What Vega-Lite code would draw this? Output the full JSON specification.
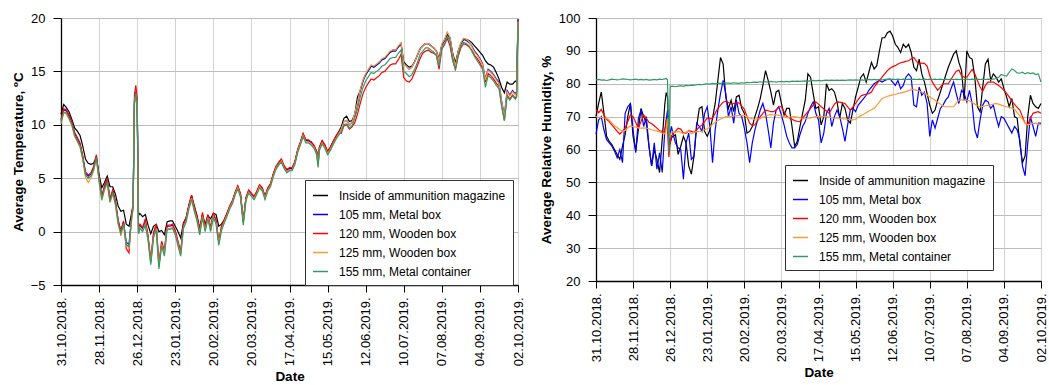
{
"$schema": "https://vega.github.io/schema/vega-lite/v6.json",
"background": "white",
"padding": {"left": 11, "top": 12, "right": 0, "bottom": 0},
"config": {
  "font": "Liberation Sans",
  "view": {"stroke": null},
  "axis": {"domainColor": "#000", "domainWidth": 1.3, "tickColor": "#000", "tickWidth": 1, "labelColor": "#000", "labelFontSize": 13, "titleFontSize": 13.5, "titleFontWeight": "bold", "titleColor": "#000", "grid": true, "gridWidth": 1},
  "axisX": {"tickSize": 7, "labelPadding": 5, "labelAngle": -90, "gridColor": "#d3d3d3", "titlePadding": 4, "labelFlush": false, "labelOverlap": false, "labelExpr": "utcFormat(datum.value, '%d.%m.%Y.')"},
  "axisY": {"tickSize": 8, "labelPadding": 8, "gridColor": "#bcbcbc", "titlePadding": 5},
  "legend": {"orient": "none", "direction": "vertical", "symbolType": "stroke", "symbolSize": 225, "symbolStrokeWidth": 1.5, "labelFontSize": 12, "labelColor": "#000", "labelOffset": 10, "labelLimit": 300, "padding": 7, "rowPadding": 4, "strokeColor": "#333333", "fillColor": "#ffffff"},
  "concat": {"spacing": 14}
},
"datasets": {
"temp": [
{"d":"2018-10-31","k":11.0,"m":10.4,"w":10.5,"o":10.1,"g":10.2},
{"d":"2018-11-02","k":11.9,"m":11.4,"w":11.5,"o":11.1,"g":11.2},
{"d":"2018-11-04","k":11.6,"m":11.3,"w":11.4,"o":11.0,"g":11.1},
{"d":"2018-11-06","k":11.2,"m":10.8,"w":10.9,"o":10.5,"g":10.6},
{"d":"2018-11-08","k":10.5,"m":10.2,"w":10.3,"o":9.9,"g":10.0},
{"d":"2018-11-10","k":9.7,"m":9.2,"w":9.3,"o":8.9,"g":9.0},
{"d":"2018-11-12","k":9.4,"m":8.7,"w":8.8,"o":8.4,"g":8.5},
{"d":"2018-11-14","k":9.0,"m":8.2,"w":8.3,"o":7.9,"g":8.0},
{"d":"2018-11-16","k":8.0,"m":7.0,"w":7.1,"o":6.7,"g":6.8},
{"d":"2018-11-18","k":6.8,"m":5.5,"w":5.6,"o":5.1,"g":5.3},
{"d":"2018-11-20","k":6.4,"m":5.2,"w":5.3,"o":4.6,"g":5.0},
{"d":"2018-11-22","k":6.3,"m":5.4,"w":5.5,"o":5.0,"g":5.2},
{"d":"2018-11-24","k":6.4,"m":6.0,"w":6.1,"o":5.7,"g":5.8},
{"d":"2018-11-26","k":7.0,"m":7.0,"w":7.2,"o":6.8,"g":6.9},
{"d":"2018-11-28","k":5.3,"m":5.0,"w":5.1,"o":4.7,"g":4.8},
{"d":"2018-11-30","k":4.1,"m":3.2,"w":3.3,"o":2.9,"g":3.0},
{"d":"2018-12-02","k":4.6,"m":4.2,"w":4.3,"o":3.9,"g":4.0},
{"d":"2018-12-04","k":5.2,"m":4.8,"w":4.9,"o":4.5,"g":4.6},
{"d":"2018-12-06","k":4.2,"m":3.0,"w":3.1,"o":2.7,"g":2.8},
{"d":"2018-12-08","k":4.2,"m":3.8,"w":3.9,"o":3.5,"g":3.6},
{"d":"2018-12-10","k":3.5,"m":2.8,"w":2.9,"o":2.5,"g":2.6},
{"d":"2018-12-12","k":2.4,"m":1.0,"w":1.1,"o":0.7,"g":0.8},
{"d":"2018-12-14","k":1.9,"m":0.0,"w":0.1,"o":-0.4,"g":-0.2},
{"d":"2018-12-16","k":2.0,"m":0.9,"w":1.0,"o":0.6,"g":0.7},
{"d":"2018-12-18","k":0.7,"m":-1.0,"w":-1.6,"o":-1.3,"g":-1.2},
{"d":"2018-12-20","k":0.5,"m":-1.2,"w":-2.0,"o":-1.5,"g":-1.4},
{"d":"2018-12-22","k":1.8,"m":1.5,"w":1.8,"o":1.2,"g":1.3},
{"d":"2018-12-23","k":2.3,"m":2.3,"w":2.6,"o":2.1,"g":2.2},
{"d":"2018-12-24","k":12.0,"m":12.3,"w":12.8,"o":12.0,"g":12.1},
{"d":"2018-12-25","k":12.9,"m":13.1,"w":13.7,"o":12.9,"g":13.0},
{"d":"2018-12-26","k":12.0,"m":12.2,"w":12.6,"o":11.9,"g":12.0},
{"d":"2018-12-27","k":1.5,"m":0.0,"w":0.3,"o":-0.2,"g":-0.2},
{"d":"2018-12-28","k":1.7,"m":0.6,"w":0.7,"o":0.4,"g":0.3},
{"d":"2018-12-30","k":1.4,"m":0.3,"w":0.4,"o":0.1,"g":0.0},
{"d":"2019-01-01","k":1.6,"m":0.9,"w":1.2,"o":0.7,"g":0.6},
{"d":"2019-01-03","k":0.6,"m":-0.5,"w":-0.4,"o":-0.7,"g":-0.8},
{"d":"2019-01-05","k":-0.2,"m":-2.8,"w":-2.6,"o":-2.9,"g":-3.1},
{"d":"2019-01-07","k":0.5,"m":-0.3,"w":-0.1,"o":-0.5,"g":-0.6},
{"d":"2019-01-09","k":0.7,"m":0.5,"w":0.7,"o":0.3,"g":0.2},
{"d":"2019-01-11","k":0.0,"m":-3.2,"w":-3.0,"o":-3.3,"g":-3.5},
{"d":"2019-01-13","k":0.1,"m":-1.0,"w":-0.9,"o":-1.2,"g":-1.3},
{"d":"2019-01-15","k":-0.3,"m":-2.0,"w":-1.8,"o":-2.1,"g":-2.3},
{"d":"2019-01-17","k":0.9,"m":0.5,"w":0.6,"o":0.3,"g":0.2},
{"d":"2019-01-19","k":1.0,"m":0.5,"w":0.6,"o":0.3,"g":0.2},
{"d":"2019-01-21","k":1.0,"m":0.6,"w":0.7,"o":0.4,"g":0.3},
{"d":"2019-01-23","k":0.5,"m":0.0,"w":0.1,"o":-0.2,"g":-0.3},
{"d":"2019-01-25","k":0.0,"m":-1.0,"w":-0.9,"o":-1.2,"g":-1.3},
{"d":"2019-01-27","k":-0.6,"m":-2.0,"w":-1.9,"o":-2.2,"g":-2.3},
{"d":"2019-01-29","k":0.8,"m":0.6,"w":0.7,"o":0.4,"g":0.3},
{"d":"2019-01-31","k":1.3,"m":1.2,"w":1.3,"o":1.0,"g":0.9},
{"d":"2019-02-02","k":2.4,"m":2.4,"w":2.5,"o":2.2,"g":2.1},
{"d":"2019-02-04","k":3.4,"m":3.3,"w":3.4,"o":3.1,"g":3.0},
{"d":"2019-02-06","k":2.4,"m":2.2,"w":2.3,"o":2.0,"g":1.9},
{"d":"2019-02-08","k":1.5,"m":1.3,"w":1.4,"o":1.1,"g":1.0},
{"d":"2019-02-10","k":0.3,"m":0.0,"w":0.2,"o":-0.2,"g":-0.3},
{"d":"2019-02-12","k":1.5,"m":1.6,"w":1.8,"o":1.4,"g":1.3},
{"d":"2019-02-14","k":0.7,"m":0.3,"w":0.4,"o":0.1,"g":0.0},
{"d":"2019-02-16","k":1.5,"m":1.5,"w":1.6,"o":1.3,"g":1.2},
{"d":"2019-02-18","k":1.2,"m":0.3,"w":0.4,"o":0.1,"g":0.0},
{"d":"2019-02-20","k":1.7,"m":1.6,"w":1.7,"o":1.4,"g":1.3},
{"d":"2019-02-22","k":1.6,"m":1.0,"w":1.1,"o":0.8,"g":0.7},
{"d":"2019-02-24","k":0.5,"m":-1.0,"w":-0.9,"o":-1.1,"g":-1.3},
{"d":"2019-02-26","k":0.7,"m":0.4,"w":0.5,"o":0.2,"g":0.1},
{"d":"2019-02-28","k":1.1,"m":1.0,"w":1.1,"o":0.9,"g":0.8},
{"d":"2019-03-02","k":1.7,"m":1.6,"w":1.7,"o":1.5,"g":1.4},
{"d":"2019-03-04","k":2.3,"m":2.3,"w":2.4,"o":2.2,"g":2.1},
{"d":"2019-03-06","k":2.8,"m":2.8,"w":2.9,"o":2.7,"g":2.6},
{"d":"2019-03-08","k":3.6,"m":3.6,"w":3.7,"o":3.5,"g":3.4},
{"d":"2019-03-10","k":4.2,"m":4.2,"w":4.3,"o":4.1,"g":4.0},
{"d":"2019-03-12","k":3.5,"m":3.4,"w":3.5,"o":3.3,"g":3.2},
{"d":"2019-03-14","k":1.0,"m":0.9,"w":1.0,"o":0.8,"g":0.6},
{"d":"2019-03-16","k":3.1,"m":3.1,"w":3.2,"o":3.0,"g":2.9},
{"d":"2019-03-18","k":3.8,"m":3.8,"w":3.9,"o":3.7,"g":3.6},
{"d":"2019-03-20","k":3.5,"m":3.5,"w":3.6,"o":3.4,"g":3.3},
{"d":"2019-03-22","k":3.2,"m":3.2,"w":3.3,"o":3.1,"g":3.0},
{"d":"2019-03-24","k":3.7,"m":3.7,"w":3.8,"o":3.6,"g":3.5},
{"d":"2019-03-26","k":4.3,"m":4.3,"w":4.4,"o":4.2,"g":4.1},
{"d":"2019-03-28","k":4.0,"m":4.0,"w":4.1,"o":3.9,"g":3.8},
{"d":"2019-03-30","k":3.3,"m":3.2,"w":3.3,"o":3.1,"g":3.0},
{"d":"2019-04-01","k":4.0,"m":4.0,"w":4.1,"o":3.9,"g":3.8},
{"d":"2019-04-03","k":4.4,"m":4.4,"w":4.5,"o":4.3,"g":4.2},
{"d":"2019-04-05","k":5.3,"m":5.3,"w":5.4,"o":5.2,"g":5.1},
{"d":"2019-04-07","k":6.0,"m":6.0,"w":6.1,"o":5.9,"g":5.8},
{"d":"2019-04-09","k":6.4,"m":6.4,"w":6.5,"o":6.3,"g":6.2},
{"d":"2019-04-11","k":6.7,"m":6.7,"w":6.8,"o":6.6,"g":6.5},
{"d":"2019-04-13","k":6.1,"m":6.1,"w":6.2,"o":6.0,"g":5.9},
{"d":"2019-04-15","k":5.8,"m":5.7,"w":5.8,"o":5.6,"g":5.5},
{"d":"2019-04-17","k":5.9,"m":5.9,"w":6.0,"o":5.8,"g":5.7},
{"d":"2019-04-19","k":6.0,"m":5.9,"w":6.0,"o":5.8,"g":5.7},
{"d":"2019-04-21","k":6.5,"m":6.5,"w":6.6,"o":6.4,"g":6.3},
{"d":"2019-04-23","k":7.6,"m":7.6,"w":7.7,"o":7.5,"g":7.4},
{"d":"2019-04-25","k":8.3,"m":8.3,"w":8.4,"o":8.2,"g":8.1},
{"d":"2019-04-27","k":9.1,"m":9.1,"w":9.2,"o":9.0,"g":8.9},
{"d":"2019-04-29","k":8.6,"m":8.5,"w":8.6,"o":8.4,"g":8.3},
{"d":"2019-05-01","k":8.5,"m":8.5,"w":8.6,"o":8.4,"g":8.3},
{"d":"2019-05-03","k":8.4,"m":8.3,"w":8.4,"o":8.2,"g":8.1},
{"d":"2019-05-05","k":8.0,"m":8.0,"w":8.1,"o":7.9,"g":7.8},
{"d":"2019-05-07","k":7.5,"m":7.4,"w":7.5,"o":7.3,"g":7.2},
{"d":"2019-05-08","k":6.6,"m":6.3,"w":6.4,"o":6.2,"g":6.0},
{"d":"2019-05-09","k":7.9,"m":7.8,"w":7.9,"o":7.7,"g":7.6},
{"d":"2019-05-11","k":8.5,"m":8.4,"w":8.5,"o":8.3,"g":8.2},
{"d":"2019-05-13","k":8.1,"m":8.0,"w":8.1,"o":7.9,"g":7.8},
{"d":"2019-05-15","k":7.5,"m":7.4,"w":7.5,"o":7.3,"g":7.2},
{"d":"2019-05-17","k":7.9,"m":7.8,"w":7.9,"o":7.7,"g":7.6},
{"d":"2019-05-19","k":8.4,"m":8.3,"w":8.4,"o":8.2,"g":8.1},
{"d":"2019-05-21","k":8.9,"m":8.8,"w":8.9,"o":8.7,"g":8.6},
{"d":"2019-05-23","k":9.3,"m":9.2,"w":9.3,"o":9.1,"g":9.0},
{"d":"2019-05-25","k":9.8,"m":9.6,"w":9.2,"o":9.6,"g":9.3},
{"d":"2019-05-27","k":10.6,"m":10.3,"w":9.9,"o":10.3,"g":10.0},
{"d":"2019-05-29","k":10.8,"m":10.4,"w":10.0,"o":10.4,"g":10.1},
{"d":"2019-05-31","k":10.3,"m":10.0,"w":9.6,"o":10.0,"g":9.7},
{"d":"2019-06-02","k":10.4,"m":10.2,"w":9.8,"o":10.2,"g":9.9},
{"d":"2019-06-04","k":11.0,"m":11.0,"w":10.2,"o":11.1,"g":10.6},
{"d":"2019-06-06","k":12.6,"m":12.0,"w":11.0,"o":12.1,"g":11.5},
{"d":"2019-06-08","k":13.2,"m":13.2,"w":12.0,"o":13.3,"g":12.6},
{"d":"2019-06-10","k":14.1,"m":14.1,"w":12.9,"o":14.2,"g":13.5},
{"d":"2019-06-12","k":14.7,"m":14.7,"w":13.5,"o":14.8,"g":14.1},
{"d":"2019-06-14","k":15.1,"m":15.1,"w":13.9,"o":15.2,"g":14.5},
{"d":"2019-06-16","k":15.5,"m":15.5,"w":14.3,"o":15.6,"g":14.9},
{"d":"2019-06-18","k":15.4,"m":15.4,"w":14.2,"o":15.5,"g":14.8},
{"d":"2019-06-20","k":15.6,"m":15.6,"w":14.4,"o":15.7,"g":15.0},
{"d":"2019-06-22","k":15.8,"m":15.8,"w":14.6,"o":15.9,"g":15.2},
{"d":"2019-06-24","k":16.1,"m":16.1,"w":14.9,"o":16.2,"g":15.5},
{"d":"2019-06-26","k":16.2,"m":16.2,"w":15.0,"o":16.3,"g":15.6},
{"d":"2019-06-28","k":16.5,"m":16.5,"w":15.3,"o":16.6,"g":15.9},
{"d":"2019-06-30","k":16.8,"m":16.8,"w":15.6,"o":16.9,"g":16.2},
{"d":"2019-07-02","k":17.0,"m":16.9,"w":15.7,"o":17.0,"g":16.3},
{"d":"2019-07-04","k":17.0,"m":16.9,"w":15.7,"o":17.0,"g":16.3},
{"d":"2019-07-06","k":17.3,"m":17.3,"w":16.1,"o":17.4,"g":16.7},
{"d":"2019-07-08","k":17.6,"m":17.6,"w":16.6,"o":17.7,"g":17.0},
{"d":"2019-07-10","k":15.9,"m":15.7,"w":14.4,"o":15.7,"g":15.0},
{"d":"2019-07-12","k":15.6,"m":15.5,"w":14.1,"o":15.5,"g":14.8},
{"d":"2019-07-14","k":15.4,"m":15.2,"w":14.0,"o":15.2,"g":14.5},
{"d":"2019-07-16","k":15.5,"m":15.4,"w":14.3,"o":15.4,"g":14.7},
{"d":"2019-07-18","k":15.9,"m":15.9,"w":14.9,"o":15.9,"g":15.2},
{"d":"2019-07-20","k":16.5,"m":16.5,"w":15.5,"o":16.5,"g":15.8},
{"d":"2019-07-22","k":17.1,"m":17.1,"w":16.2,"o":17.1,"g":16.6},
{"d":"2019-07-24","k":17.4,"m":17.4,"w":16.7,"o":17.4,"g":16.9},
{"d":"2019-07-26","k":17.6,"m":17.6,"w":16.9,"o":17.6,"g":17.2},
{"d":"2019-07-28","k":17.6,"m":17.6,"w":17.0,"o":17.6,"g":17.2},
{"d":"2019-07-30","k":17.4,"m":17.4,"w":16.8,"o":17.4,"g":17.0},
{"d":"2019-08-01","k":17.2,"m":17.2,"w":16.7,"o":17.2,"g":16.8},
{"d":"2019-08-03","k":16.9,"m":16.9,"w":16.5,"o":16.9,"g":16.5},
{"d":"2019-08-05","k":16.2,"m":16.0,"w":15.2,"o":16.0,"g":15.5},
{"d":"2019-08-07","k":17.5,"m":17.5,"w":17.1,"o":17.6,"g":17.2},
{"d":"2019-08-09","k":17.9,"m":17.9,"w":17.5,"o":18.0,"g":17.6},
{"d":"2019-08-11","k":18.5,"m":18.6,"w":18.1,"o":18.7,"g":18.3},
{"d":"2019-08-13","k":18.1,"m":18.1,"w":17.4,"o":18.2,"g":17.8},
{"d":"2019-08-15","k":16.7,"m":16.5,"w":16.0,"o":16.6,"g":16.1},
{"d":"2019-08-17","k":15.8,"m":15.4,"w":15.2,"o":15.5,"g":15.1},
{"d":"2019-08-19","k":16.9,"m":16.8,"w":16.4,"o":16.9,"g":16.5},
{"d":"2019-08-21","k":17.6,"m":17.6,"w":17.2,"o":17.7,"g":17.3},
{"d":"2019-08-23","k":18.0,"m":18.0,"w":17.6,"o":18.1,"g":17.7},
{"d":"2019-08-25","k":18.0,"m":17.9,"w":17.5,"o":18.0,"g":17.6},
{"d":"2019-08-27","k":17.9,"m":17.7,"w":17.3,"o":17.8,"g":17.4},
{"d":"2019-08-29","k":17.7,"m":17.4,"w":17.0,"o":17.3,"g":16.9},
{"d":"2019-08-31","k":17.4,"m":16.9,"w":16.5,"o":16.8,"g":16.4},
{"d":"2019-09-02","k":17.1,"m":16.6,"w":16.2,"o":16.5,"g":16.0},
{"d":"2019-09-04","k":16.8,"m":16.2,"w":15.8,"o":16.1,"g":15.6},
{"d":"2019-09-06","k":16.5,"m":15.7,"w":15.3,"o":15.6,"g":15.2},
{"d":"2019-09-08","k":16.0,"m":14.3,"w":14.0,"o":14.2,"g":13.5},
{"d":"2019-09-10","k":15.7,"m":15.2,"w":14.8,"o":15.1,"g":14.6},
{"d":"2019-09-12","k":15.6,"m":15.0,"w":14.6,"o":14.9,"g":14.4},
{"d":"2019-09-14","k":15.4,"m":14.7,"w":14.3,"o":14.6,"g":14.1},
{"d":"2019-09-16","k":14.9,"m":14.3,"w":13.9,"o":14.2,"g":13.7},
{"d":"2019-09-18","k":14.3,"m":14.0,"w":13.6,"o":13.9,"g":13.4},
{"d":"2019-09-20","k":13.5,"m":12.2,"w":11.8,"o":12.1,"g":11.7},
{"d":"2019-09-22","k":13.0,"m":10.9,"w":10.4,"o":10.8,"g":10.4},
{"d":"2019-09-24","k":14.0,"m":13.2,"w":12.8,"o":13.1,"g":12.7},
{"d":"2019-09-26","k":13.8,"m":12.8,"w":12.4,"o":12.7,"g":12.3},
{"d":"2019-09-28","k":13.8,"m":13.2,"w":12.8,"o":13.1,"g":12.7},
{"d":"2019-09-30","k":14.1,"m":12.9,"w":12.5,"o":12.8,"g":12.4},
{"d":"2019-10-01","k":14.0,"m":13.1,"w":12.7,"o":13.0,"g":12.6},
{"d":"2019-10-02","k":19.9,"m":19.8,"w":19.6,"o":19.7,"g":19.4}
],
"hum": [
{"d":"2018-10-31","k":70,"m":64.7,"w":72.2,"o":70,"g":81.2},
{"d":"2018-11-02","k":74,"m":69,"w":71.2,"o":69.8,"g":81.3},
{"d":"2018-11-04","k":77.5,"m":70,"w":72.2,"o":69.8,"g":81.1},
{"d":"2018-11-06","k":71,"m":66,"w":70.5,"o":69.6,"g":81.2},
{"d":"2018-11-08","k":64,"m":63,"w":69.2,"o":69.5,"g":81.0},
{"d":"2018-11-10","k":62.5,"m":62,"w":68.5,"o":69,"g":81.2},
{"d":"2018-11-12","k":61.5,"m":61,"w":67.5,"o":68,"g":81.4},
{"d":"2018-11-14","k":60,"m":59.5,"w":66.5,"o":67.2,"g":81.3},
{"d":"2018-11-16","k":58.5,"m":57.5,"w":65.5,"o":66.7,"g":81.2},
{"d":"2018-11-18","k":57,"m":60,"w":64.7,"o":66,"g":81.3},
{"d":"2018-11-20","k":61,"m":56,"w":65.5,"o":65.5,"g":81.5},
{"d":"2018-11-22","k":64.5,"m":71,"w":66.5,"o":65.8,"g":81.4},
{"d":"2018-11-24","k":70,"m":73,"w":68.5,"o":66.6,"g":81.3},
{"d":"2018-11-26","k":74,"m":74,"w":70.5,"o":67.2,"g":81.2},
{"d":"2018-11-28","k":64,"m":66,"w":70,"o":67,"g":81.3},
{"d":"2018-11-30","k":59.5,"m":59,"w":68.2,"o":66.8,"g":81.4},
{"d":"2018-12-02","k":66,"m":69.5,"w":66.5,"o":66.6,"g":81.2},
{"d":"2018-12-04","k":72.5,"m":72,"w":68.5,"o":66.5,"g":81.3},
{"d":"2018-12-06","k":70,"m":67,"w":70.5,"o":66.6,"g":81.2},
{"d":"2018-12-08","k":68,"m":70,"w":69.5,"o":66.5,"g":81.3},
{"d":"2018-12-10","k":61,"m":61,"w":68.3,"o":66.3,"g":81.1},
{"d":"2018-12-12","k":55,"m":55,"w":67.8,"o":66,"g":81.2},
{"d":"2018-12-14","k":60,"m":62,"w":67.2,"o":65.8,"g":81.3},
{"d":"2018-12-16","k":57,"m":54,"w":66.5,"o":65.6,"g":81.2},
{"d":"2018-12-18","k":53,"m":59,"w":65.7,"o":65.4,"g":81.4},
{"d":"2018-12-20","k":63,"m":53,"w":65.5,"o":65,"g":81.3},
{"d":"2018-12-22","k":74,"m":66,"w":65.2,"o":64.7,"g":81.5},
{"d":"2018-12-23","k":77.3,"m":69,"w":69,"o":66.2,"g":81.6},
{"d":"2018-12-24","k":76,"m":72,"w":66,"o":69.5,"g":81.2},
{"d":"2018-12-25","k":63,"m":61,"w":57.7,"o":63.5,"g":59},
{"d":"2018-12-26","k":62,"m":65,"w":62,"o":64.5,"g":79.3},
{"d":"2018-12-27","k":63.5,"m":67,"w":64.2,"o":65.2,"g":79.2},
{"d":"2018-12-28","k":64,"m":65,"w":64.7,"o":65.4,"g":79.3},
{"d":"2018-12-30","k":64.5,"m":62,"w":65.5,"o":65.2,"g":79.1},
{"d":"2019-01-01","k":58.5,"m":60.5,"w":66.5,"o":65.5,"g":79.3},
{"d":"2019-01-03","k":61,"m":60,"w":66.2,"o":65.2,"g":79.4},
{"d":"2019-01-05","k":64,"m":51,"w":65,"o":64.8,"g":79.2},
{"d":"2019-01-07","k":62,"m":62,"w":65,"o":65.3,"g":79.5},
{"d":"2019-01-09","k":55,"m":65,"w":65.7,"o":65.6,"g":79.4},
{"d":"2019-01-11","k":52.5,"m":57,"w":65.5,"o":64.8,"g":79.6},
{"d":"2019-01-13","k":58,"m":58,"w":65.2,"o":65.2,"g":79.5},
{"d":"2019-01-15","k":67,"m":68,"w":66,"o":65.5,"g":79.7},
{"d":"2019-01-17","k":72.5,"m":67,"w":66.8,"o":65.4,"g":79.8},
{"d":"2019-01-19","k":73,"m":65.5,"w":67.5,"o":65.5,"g":79.7},
{"d":"2019-01-21","k":65.5,"m":71,"w":68.5,"o":66,"g":79.9},
{"d":"2019-01-23","k":64,"m":73,"w":69.6,"o":66.3,"g":80.0},
{"d":"2019-01-25","k":66,"m":67,"w":69.3,"o":66.8,"g":79.9},
{"d":"2019-01-27","k":69.5,"m":56,"w":69.5,"o":67.7,"g":80.1},
{"d":"2019-01-29","k":74,"m":66,"w":71,"o":68.3,"g":80.0},
{"d":"2019-01-31","k":81,"m":72,"w":72.5,"o":68.8,"g":80.2},
{"d":"2019-02-02","k":88,"m":77,"w":73.5,"o":69.3,"g":80.1},
{"d":"2019-02-04","k":86,"m":81,"w":74.4,"o":69.6,"g":80.3},
{"d":"2019-02-06","k":76,"m":77,"w":74.7,"o":70,"g":80.2},
{"d":"2019-02-08","k":72.5,"m":70,"w":74.3,"o":70.1,"g":80.2},
{"d":"2019-02-10","k":75,"m":73,"w":73.8,"o":70,"g":80.1},
{"d":"2019-02-12","k":71.5,"m":68,"w":74,"o":70.2,"g":80.3},
{"d":"2019-02-14","k":76,"m":75,"w":74.2,"o":70.2,"g":80.2},
{"d":"2019-02-16","k":76.5,"m":71,"w":74.2,"o":70.3,"g":80.1},
{"d":"2019-02-18","k":72.5,"m":70,"w":73.2,"o":70.3,"g":80.3},
{"d":"2019-02-20","k":71,"m":66.5,"w":72.3,"o":70.4,"g":80.2},
{"d":"2019-02-22","k":65,"m":62,"w":70,"o":70,"g":80.4},
{"d":"2019-02-24","k":65.5,"m":56,"w":68,"o":69.6,"g":80.3},
{"d":"2019-02-26","k":67,"m":62,"w":67.3,"o":69.3,"g":80.4},
{"d":"2019-02-28","k":70,"m":66,"w":67.5,"o":69.2,"g":80.5},
{"d":"2019-03-02","k":72.5,"m":69,"w":68.8,"o":69.3,"g":80.4},
{"d":"2019-03-04","k":75.5,"m":72,"w":70,"o":69.4,"g":80.6},
{"d":"2019-03-06","k":79.5,"m":74,"w":71,"o":69.8,"g":80.5},
{"d":"2019-03-08","k":84,"m":71,"w":72,"o":70.2,"g":80.6},
{"d":"2019-03-10","k":81,"m":66,"w":71.8,"o":70.5,"g":80.5},
{"d":"2019-03-12","k":77.5,"m":60.5,"w":71.5,"o":70.6,"g":80.7},
{"d":"2019-03-14","k":73.5,"m":68,"w":71.5,"o":70.5,"g":80.6},
{"d":"2019-03-16","k":77.5,"m":72,"w":72,"o":70.6,"g":80.5},
{"d":"2019-03-18","k":78,"m":73,"w":73,"o":70.4,"g":80.6},
{"d":"2019-03-20","k":74,"m":70.5,"w":73,"o":70.2,"g":80.7},
{"d":"2019-03-22","k":70.5,"m":67.5,"w":71.5,"o":70,"g":80.6},
{"d":"2019-03-24","k":72.5,"m":64,"w":70,"o":69.7,"g":80.7},
{"d":"2019-03-26","k":72.5,"m":62,"w":69.6,"o":69.8,"g":80.6},
{"d":"2019-03-28","k":67,"m":60.5,"w":69.2,"o":70,"g":80.8},
{"d":"2019-03-30","k":61,"m":60.5,"w":68.8,"o":70,"g":80.7},
{"d":"2019-04-01","k":62.5,"m":61.5,"w":68.6,"o":69.8,"g":80.8},
{"d":"2019-04-03","k":67,"m":64.5,"w":68.5,"o":69.6,"g":80.7},
{"d":"2019-04-05","k":71,"m":67,"w":69.5,"o":69.5,"g":80.8},
{"d":"2019-04-07","k":75,"m":68.5,"w":70.5,"o":69.4,"g":80.9},
{"d":"2019-04-09","k":83,"m":71,"w":71.5,"o":69.5,"g":80.8},
{"d":"2019-04-11","k":82,"m":73,"w":72.5,"o":69.6,"g":80.9},
{"d":"2019-04-13","k":77,"m":74.5,"w":73.5,"o":69.8,"g":81.0},
{"d":"2019-04-15","k":72.5,"m":71,"w":74.5,"o":70,"g":80.9},
{"d":"2019-04-17","k":73,"m":69,"w":73.8,"o":70.1,"g":81.0},
{"d":"2019-04-19","k":67.5,"m":62,"w":73,"o":70,"g":80.9},
{"d":"2019-04-21","k":70,"m":65,"w":72.4,"o":70,"g":81.0},
{"d":"2019-04-23","k":80,"m":71,"w":71.7,"o":70,"g":81.1},
{"d":"2019-04-25","k":78,"m":72.5,"w":71,"o":69.8,"g":81.0},
{"d":"2019-04-27","k":78.5,"m":67,"w":72.4,"o":69.6,"g":81.1},
{"d":"2019-04-29","k":77.5,"m":70,"w":73.8,"o":69.5,"g":81.0},
{"d":"2019-05-01","k":74.5,"m":72,"w":74.5,"o":69.6,"g":81.1},
{"d":"2019-05-03","k":69.5,"m":70,"w":74.4,"o":69.5,"g":81.0},
{"d":"2019-05-05","k":74,"m":66.5,"w":74.2,"o":69.4,"g":81.1},
{"d":"2019-05-07","k":72.5,"m":62.5,"w":74,"o":69.3,"g":81.0},
{"d":"2019-05-09","k":69,"m":67.5,"w":73,"o":69.2,"g":81.1},
{"d":"2019-05-11","k":68,"m":72,"w":72,"o":69.1,"g":81.2},
{"d":"2019-05-13","k":72,"m":72.5,"w":73,"o":69,"g":81.1},
{"d":"2019-05-15","k":76,"m":71.5,"w":74,"o":69.2,"g":81.2},
{"d":"2019-05-17","k":79,"m":73.5,"w":75.2,"o":69.8,"g":81.1},
{"d":"2019-05-19","k":82,"m":74.5,"w":76.3,"o":70.3,"g":81.2},
{"d":"2019-05-21","k":83,"m":75.5,"w":76.6,"o":70.7,"g":81.1},
{"d":"2019-05-23","k":80.5,"m":76.5,"w":76.8,"o":71.2,"g":81.2},
{"d":"2019-05-25","k":83.5,"m":78,"w":77,"o":71.7,"g":81.3},
{"d":"2019-05-27","k":86.5,"m":79,"w":77.5,"o":72.1,"g":81.2},
{"d":"2019-05-29","k":84.5,"m":80,"w":79,"o":72.5,"g":81.3},
{"d":"2019-05-31","k":85.5,"m":80.5,"w":80,"o":73.4,"g":81.2},
{"d":"2019-06-02","k":90,"m":81,"w":81,"o":74.5,"g":81.3},
{"d":"2019-06-04","k":94,"m":80.5,"w":82,"o":75.5,"g":81.2},
{"d":"2019-06-06","k":94,"m":81,"w":83,"o":75.8,"g":81.3},
{"d":"2019-06-08","k":95.5,"m":81.3,"w":84,"o":76.2,"g":81.4},
{"d":"2019-06-10","k":96,"m":81.5,"w":84.7,"o":76.4,"g":81.3},
{"d":"2019-06-12","k":94.5,"m":80.5,"w":85.2,"o":76.6,"g":81.4},
{"d":"2019-06-14","k":92,"m":79.5,"w":85.5,"o":76.8,"g":81.3},
{"d":"2019-06-16","k":91,"m":81,"w":86,"o":77,"g":81.4},
{"d":"2019-06-18","k":89.5,"m":78.5,"w":86.4,"o":77.2,"g":81.3},
{"d":"2019-06-20","k":92,"m":79.5,"w":86.6,"o":77.4,"g":81.4},
{"d":"2019-06-22","k":91,"m":82,"w":86.8,"o":77.6,"g":81.3},
{"d":"2019-06-24","k":92,"m":83,"w":87,"o":77.9,"g":81.4},
{"d":"2019-06-26","k":89.5,"m":82,"w":87.5,"o":78.2,"g":81.3},
{"d":"2019-06-28","k":85,"m":73.5,"w":88,"o":78.3,"g":81.4},
{"d":"2019-06-30","k":84,"m":73,"w":86.8,"o":78,"g":81.3},
{"d":"2019-07-02","k":87.5,"m":79,"w":86,"o":77.8,"g":81.4},
{"d":"2019-07-04","k":83,"m":76.5,"w":86.3,"o":77.5,"g":81.3},
{"d":"2019-07-06","k":80.5,"m":77.5,"w":86.2,"o":77.2,"g":81.4},
{"d":"2019-07-08","k":77,"m":74,"w":85.4,"o":76.6,"g":81.3},
{"d":"2019-07-10","k":73.5,"m":64,"w":82.5,"o":76,"g":81.4},
{"d":"2019-07-12","k":71,"m":69,"w":80.5,"o":75.5,"g":81.3},
{"d":"2019-07-14","k":72,"m":66.5,"w":79.2,"o":75,"g":81.4},
{"d":"2019-07-16","k":75,"m":69.5,"w":78,"o":74.4,"g":81.3},
{"d":"2019-07-18","k":77.5,"m":72.5,"w":79,"o":73.8,"g":81.4},
{"d":"2019-07-20","k":80,"m":73.5,"w":80,"o":73.2,"g":81.3},
{"d":"2019-07-22","k":82.5,"m":75,"w":80,"o":73,"g":81.4},
{"d":"2019-07-24","k":85,"m":76,"w":80,"o":73,"g":81.3},
{"d":"2019-07-26","k":87,"m":78.5,"w":81.3,"o":73,"g":81.4},
{"d":"2019-07-28","k":89,"m":80.5,"w":82.6,"o":73,"g":81.3},
{"d":"2019-07-30","k":90,"m":77,"w":83.8,"o":74,"g":81.4},
{"d":"2019-08-01","k":86.5,"m":74,"w":84.2,"o":75,"g":81.3},
{"d":"2019-08-03","k":84,"m":78,"w":82.5,"o":75.1,"g":81.4},
{"d":"2019-08-05","k":75,"m":77,"w":82,"o":75,"g":81.3},
{"d":"2019-08-07","k":90,"m":74.5,"w":82,"o":75,"g":81.4},
{"d":"2019-08-09","k":88,"m":78,"w":83.2,"o":74.8,"g":81.3},
{"d":"2019-08-11","k":87.5,"m":74,"w":84.4,"o":74.3,"g":81.4},
{"d":"2019-08-13","k":82,"m":66,"w":83,"o":73.8,"g":81.3},
{"d":"2019-08-15","k":73,"m":63.5,"w":81,"o":73.3,"g":81.4},
{"d":"2019-08-17","k":71.5,"m":69,"w":79,"o":73,"g":81.3},
{"d":"2019-08-19","k":79,"m":73.5,"w":77.7,"o":73.1,"g":81.4},
{"d":"2019-08-21","k":86,"m":75,"w":79.5,"o":73.3,"g":81.3},
{"d":"2019-08-23","k":87.5,"m":74.5,"w":80.5,"o":73.4,"g":81.4},
{"d":"2019-08-25","k":81,"m":72.5,"w":80.5,"o":73.6,"g":81.3},
{"d":"2019-08-27","k":83,"m":73.5,"w":80.5,"o":73.8,"g":81.4},
{"d":"2019-08-29","k":82,"m":70,"w":80,"o":74,"g":81.6},
{"d":"2019-08-31","k":80.5,"m":67,"w":79.5,"o":73.8,"g":82},
{"d":"2019-09-02","k":81.5,"m":70,"w":78.8,"o":73.5,"g":82.8},
{"d":"2019-09-04","k":78.5,"m":69.5,"w":78,"o":73.2,"g":82.5},
{"d":"2019-09-06","k":76,"m":68,"w":77.1,"o":73,"g":82.3},
{"d":"2019-09-08","k":73,"m":66.5,"w":76,"o":72.8,"g":83.5},
{"d":"2019-09-10","k":75.5,"m":65,"w":74.7,"o":72.6,"g":84.5},
{"d":"2019-09-12","k":70,"m":67,"w":73.7,"o":72.3,"g":84},
{"d":"2019-09-14","k":69.5,"m":66,"w":72.8,"o":71.2,"g":83.3},
{"d":"2019-09-16","k":62,"m":63,"w":72,"o":70.2,"g":83.2},
{"d":"2019-09-18","k":56,"m":55,"w":70,"o":69.3,"g":83.5},
{"d":"2019-09-20","k":58,"m":52,"w":68,"o":68,"g":83},
{"d":"2019-09-22","k":70,"m":62,"w":67.5,"o":67.5,"g":83.4},
{"d":"2019-09-24","k":76.5,"m":70,"w":69.5,"o":67.7,"g":83.1},
{"d":"2019-09-26","k":74,"m":67,"w":71,"o":67.9,"g":83.3},
{"d":"2019-09-28","k":73,"m":64,"w":71.3,"o":68,"g":82.8},
{"d":"2019-09-30","k":72.5,"m":68,"w":71.5,"o":67.8,"g":83},
{"d":"2019-10-02","k":74,"m":68,"w":71,"o":67.5,"g":80.5}
]
},
"hconcat": [
{
  "width": 457, "height": 267,
  "data": {"name": "temp"},
  "transform": [{"fold": ["k","m","w","o","g"], "as": ["s","v"]}],
  "mark": {"type": "line", "strokeWidth": 1.2},
  "encoding": {
    "x": {"field": "d", "type": "temporal",
      "scale": {"type": "utc", "domain": [{"year":2018,"month":10,"date":31,"utc":true},{"year":2019,"month":10,"date":2,"utc":true}]},
      "axis": {"title": "Date",
        "values": [{"year":2018,"month":10,"date":31,"utc":true},{"year":2018,"month":11,"date":28,"utc":true},{"year":2018,"month":12,"date":26,"utc":true},{"year":2019,"month":1,"date":23,"utc":true},{"year":2019,"month":2,"date":20,"utc":true},{"year":2019,"month":3,"date":20,"utc":true},{"year":2019,"month":4,"date":17,"utc":true},{"year":2019,"month":5,"date":15,"utc":true},{"year":2019,"month":6,"date":12,"utc":true},{"year":2019,"month":7,"date":10,"utc":true},{"year":2019,"month":8,"date":7,"utc":true},{"year":2019,"month":9,"date":4,"utc":true},{"year":2019,"month":10,"date":2,"utc":true}]}},
    "y": {"field": "v", "type": "quantitative", "scale": {"domain": [-5, 20], "nice": false, "zero": false},
      "axis": {"title": "Average Temperature, ºC", "values": [-5, 0, 5, 10, 15, 20]}},
    "color": {"field": "s", "type": "nominal",
      "scale": {"domain": ["k","m","w","o","g"], "range": ["#000000","#0000ff","#ff0000","#ff9933","#339966"]},
      "legend": {"title": null, "legendX": 244, "legendY": 162,
        "labelExpr": "{'k':'Inside of ammunition magazine','m':'105 mm, Metal box','w':'120 mm, Wooden box','o':'125 mm, Wooden box','g':'155 mm, Metal container'}[datum.label]"}}
  }
},
{
  "width": 445, "height": 263,
  "data": {"name": "hum"},
  "transform": [{"fold": ["k","m","w","o","g"], "as": ["s","v"]}],
  "mark": {"type": "line", "strokeWidth": 1.2},
  "encoding": {
    "x": {"field": "d", "type": "temporal",
      "scale": {"type": "utc", "domain": [{"year":2018,"month":10,"date":31,"utc":true},{"year":2019,"month":10,"date":2,"utc":true}]},
      "axis": {"title": "Date",
        "values": [{"year":2018,"month":10,"date":31,"utc":true},{"year":2018,"month":11,"date":28,"utc":true},{"year":2018,"month":12,"date":26,"utc":true},{"year":2019,"month":1,"date":23,"utc":true},{"year":2019,"month":2,"date":20,"utc":true},{"year":2019,"month":3,"date":20,"utc":true},{"year":2019,"month":4,"date":17,"utc":true},{"year":2019,"month":5,"date":15,"utc":true},{"year":2019,"month":6,"date":12,"utc":true},{"year":2019,"month":7,"date":10,"utc":true},{"year":2019,"month":8,"date":7,"utc":true},{"year":2019,"month":9,"date":4,"utc":true},{"year":2019,"month":10,"date":2,"utc":true}]}},
    "y": {"field": "v", "type": "quantitative", "scale": {"domain": [20, 100], "nice": false, "zero": false},
      "axis": {"title": "Average Relative Humidity, %", "values": [20, 30, 40, 50, 60, 70, 80, 90, 100]}},
    "color": {"field": "s", "type": "nominal",
      "scale": {"domain": ["k","m","w","o","g"], "range": ["#000000","#0000ff","#ff0000","#ff9933","#339966"]},
      "legend": {"title": null, "legendX": 189, "legendY": 147,
        "labelExpr": "{'k':'Inside of ammunition magazine','m':'105 mm, Metal box','w':'120 mm, Wooden box','o':'125 mm, Wooden box','g':'155 mm, Metal container'}[datum.label]"}}
  }
}
],
"resolve": {"scale": {"x": "independent", "y": "independent", "color": "independent"}, "legend": {"color": "independent"}}
}
